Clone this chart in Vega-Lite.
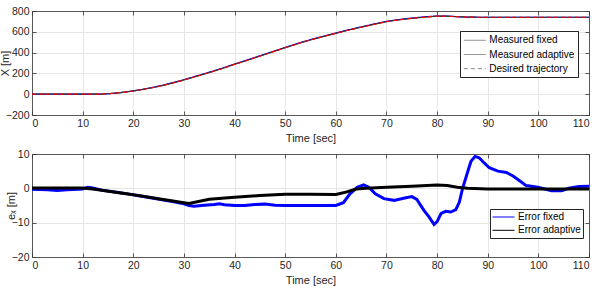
{
  "$schema": "https://vega.github.io/schema/vega-lite/v6.json",
  "padding": {"left": -1, "top": 6, "right": 5, "bottom": 2},
  "spacing": 5,
  "resolve": {"legend": {"color": "independent", "strokeDash": "independent"}},
  "config": {
    "font": "Liberation Sans",
    "view": {"stroke": null},
    "axis": {
      "labelFont": "Liberation Sans", "labelFontSize": 10.5, "labelColor": "#262626",
      "titleFont": "Liberation Sans", "titleFontSize": 11, "titleFontWeight": "normal", "titleColor": "#262626",
      "domainColor": "#333333", "tickColor": "#333333", "gridColor": "#e6e6e6",
      "tickSize": -4, "labelPadding": 7, "domainWidth": 0.8, "tickWidth": 0.8
    },
    "axisX": {"titlePadding": 4},
    "axisY": {"titlePadding": -5},
    "legend": {
      "orient": "none", "title": null, "strokeColor": "#262626", "fillColor": "white",
      "symbolType": "M-1,0H3", "symbolSize": 121, "symbolStrokeWidth": 1,
      "labelFont": "Liberation Sans", "labelFontSize": 10, "labelColor": "#000000",
      "labelOffset": 14, "cornerRadius": 0
    }
  },
  "vconcat": [
    {
      "width": 557, "height": 104,
      "data": {"values": [
        {"t": 0, "Measured fixed": 0, "Measured adaptive": 0, "Desired trajectory": 0},
        {"t": 5, "Measured fixed": 0, "Measured adaptive": 0, "Desired trajectory": 0},
        {"t": 10, "Measured fixed": 0, "Measured adaptive": 0, "Desired trajectory": 0},
        {"t": 12, "Measured fixed": 0, "Measured adaptive": 0, "Desired trajectory": 0},
        {"t": 14, "Measured fixed": 2, "Measured adaptive": 2, "Desired trajectory": 2},
        {"t": 16, "Measured fixed": 8, "Measured adaptive": 8, "Desired trajectory": 8},
        {"t": 18, "Measured fixed": 18, "Measured adaptive": 18, "Desired trajectory": 18},
        {"t": 20, "Measured fixed": 32, "Measured adaptive": 31, "Desired trajectory": 31},
        {"t": 22, "Measured fixed": 48, "Measured adaptive": 47, "Desired trajectory": 47},
        {"t": 24, "Measured fixed": 67, "Measured adaptive": 65, "Desired trajectory": 65},
        {"t": 26, "Measured fixed": 88, "Measured adaptive": 86, "Desired trajectory": 86},
        {"t": 28, "Measured fixed": 113, "Measured adaptive": 110, "Desired trajectory": 110},
        {"t": 30, "Measured fixed": 140, "Measured adaptive": 137, "Desired trajectory": 137},
        {"t": 32, "Measured fixed": 168, "Measured adaptive": 165, "Desired trajectory": 165},
        {"t": 34, "Measured fixed": 197, "Measured adaptive": 194, "Desired trajectory": 194},
        {"t": 36, "Measured fixed": 226, "Measured adaptive": 223, "Desired trajectory": 223},
        {"t": 38, "Measured fixed": 257, "Measured adaptive": 254, "Desired trajectory": 254},
        {"t": 40, "Measured fixed": 290, "Measured adaptive": 287, "Desired trajectory": 287},
        {"t": 42, "Measured fixed": 321, "Measured adaptive": 318, "Desired trajectory": 318},
        {"t": 44, "Measured fixed": 353, "Measured adaptive": 350, "Desired trajectory": 350},
        {"t": 46, "Measured fixed": 385, "Measured adaptive": 382, "Desired trajectory": 382},
        {"t": 48, "Measured fixed": 417, "Measured adaptive": 414, "Desired trajectory": 414},
        {"t": 50, "Measured fixed": 450, "Measured adaptive": 447, "Desired trajectory": 447},
        {"t": 52, "Measured fixed": 481, "Measured adaptive": 478, "Desired trajectory": 478},
        {"t": 54, "Measured fixed": 511, "Measured adaptive": 508, "Desired trajectory": 508},
        {"t": 56, "Measured fixed": 538, "Measured adaptive": 535, "Desired trajectory": 535},
        {"t": 58, "Measured fixed": 564, "Measured adaptive": 561, "Desired trajectory": 561},
        {"t": 60, "Measured fixed": 588, "Measured adaptive": 585, "Desired trajectory": 585},
        {"t": 62, "Measured fixed": 613, "Measured adaptive": 610, "Desired trajectory": 610},
        {"t": 64, "Measured fixed": 636, "Measured adaptive": 633, "Desired trajectory": 633},
        {"t": 66, "Measured fixed": 658, "Measured adaptive": 655, "Desired trajectory": 655},
        {"t": 68, "Measured fixed": 680, "Measured adaptive": 677, "Desired trajectory": 677},
        {"t": 70, "Measured fixed": 700, "Measured adaptive": 697, "Desired trajectory": 697},
        {"t": 72, "Measured fixed": 715, "Measured adaptive": 712, "Desired trajectory": 712},
        {"t": 74, "Measured fixed": 727, "Measured adaptive": 724, "Desired trajectory": 724},
        {"t": 76, "Measured fixed": 737, "Measured adaptive": 734, "Desired trajectory": 734},
        {"t": 78, "Measured fixed": 746, "Measured adaptive": 743, "Desired trajectory": 743},
        {"t": 80, "Measured fixed": 752, "Measured adaptive": 750, "Desired trajectory": 750},
        {"t": 82, "Measured fixed": 751, "Measured adaptive": 750, "Desired trajectory": 750},
        {"t": 84, "Measured fixed": 746, "Measured adaptive": 745, "Desired trajectory": 745},
        {"t": 86, "Measured fixed": 741, "Measured adaptive": 741, "Desired trajectory": 741},
        {"t": 88, "Measured fixed": 740, "Measured adaptive": 740, "Desired trajectory": 740},
        {"t": 90, "Measured fixed": 740, "Measured adaptive": 740, "Desired trajectory": 740},
        {"t": 95, "Measured fixed": 740, "Measured adaptive": 740, "Desired trajectory": 740},
        {"t": 100, "Measured fixed": 740, "Measured adaptive": 740, "Desired trajectory": 740},
        {"t": 105, "Measured fixed": 740, "Measured adaptive": 740, "Desired trajectory": 740},
        {"t": 110, "Measured fixed": 740, "Measured adaptive": 740, "Desired trajectory": 740}
      ]},
      "transform": [{"fold": ["Measured fixed", "Measured adaptive", "Desired trajectory"], "as": ["key", "x"]}],
      "layer": [
        {
          "mark": {"type": "line", "strokeWidth": 1.2, "clip": true},
          "encoding": {
            "x": {"field": "t", "type": "quantitative", "scale": {"domain": [0, 110], "nice": false},
                  "axis": {"orient": "bottom", "values": [0, 10, 20, 30, 40, 50, 60, 70, 80, 90, 100, 110], "title": "Time [sec]"}},
            "y": {"field": "x", "type": "quantitative", "scale": {"domain": [-200, 800], "nice": false},
                  "axis": {"orient": "left", "values": [-200, 0, 200, 400, 600, 800], "title": "X [m]"}},
            "color": {"field": "key", "type": "nominal",
                      "scale": {"domain": ["Measured fixed", "Measured adaptive", "Desired trajectory", "Error fixed", "Error adaptive"], "range": ["#0000ff", "#333333", "#ff0000", "#0000ff", "#000000"]},
                      "legend": {"values": ["Measured fixed", "Measured adaptive", "Desired trajectory"], "legendX": 428, "legendY": 20, "padding": 3.3, "rowPadding": 3.2,
                                 "encode": {"symbols": {"update": {"strokeWidth": {"value": 1}}}}}},
            "strokeDash": {"field": "key", "type": "nominal",
                      "scale": {"domain": ["Measured fixed", "Measured adaptive", "Desired trajectory"], "range": [[1, 0], [1, 0], [4, 3]]},
                      "legend": {"values": ["Measured fixed", "Measured adaptive", "Desired trajectory"], "legendX": 428, "legendY": 20, "padding": 3.3, "rowPadding": 3.2,
                                 "encode": {"symbols": {"update": {"strokeWidth": {"value": 1}}}}}}
          }
        },
        {
          "mark": {"type": "point", "opacity": 0},
          "encoding": {
            "x": {"field": "t", "type": "quantitative", "axis": {"orient": "top", "labels": false, "title": null, "grid": false, "values": [0, 10, 20, 30, 40, 50, 60, 70, 80, 90, 100, 110]}},
            "y": {"field": "x", "type": "quantitative", "axis": {"orient": "right", "labels": false, "title": null, "grid": false, "values": [-200, 0, 200, 400, 600, 800]}}
          }
        }
      ],
      "resolve": {"axis": {"x": "independent", "y": "independent"}}
    },
    {
      "width": 557, "height": 103,
      "data": {"values": [
        {"t": 0, "e": -0.3, "s": "Error fixed"},
        {"t": 3, "e": -0.4, "s": "Error fixed"},
        {"t": 5, "e": -0.6, "s": "Error fixed"},
        {"t": 7, "e": -0.4, "s": "Error fixed"},
        {"t": 10, "e": -0.2, "s": "Error fixed"},
        {"t": 11, "e": 0.3, "s": "Error fixed"},
        {"t": 12, "e": 0.1, "s": "Error fixed"},
        {"t": 14, "e": -0.6, "s": "Error fixed"},
        {"t": 16, "e": -1.0, "s": "Error fixed"},
        {"t": 18, "e": -1.4, "s": "Error fixed"},
        {"t": 20, "e": -1.9, "s": "Error fixed"},
        {"t": 22, "e": -2.4, "s": "Error fixed"},
        {"t": 24, "e": -2.9, "s": "Error fixed"},
        {"t": 26, "e": -3.4, "s": "Error fixed"},
        {"t": 28, "e": -3.9, "s": "Error fixed"},
        {"t": 30, "e": -4.5, "s": "Error fixed"},
        {"t": 31, "e": -5.0, "s": "Error fixed"},
        {"t": 32, "e": -5.2, "s": "Error fixed"},
        {"t": 34, "e": -4.9, "s": "Error fixed"},
        {"t": 36, "e": -4.7, "s": "Error fixed"},
        {"t": 37, "e": -4.5, "s": "Error fixed"},
        {"t": 38, "e": -4.8, "s": "Error fixed"},
        {"t": 40, "e": -5.0, "s": "Error fixed"},
        {"t": 42, "e": -5.0, "s": "Error fixed"},
        {"t": 44, "e": -4.7, "s": "Error fixed"},
        {"t": 46, "e": -4.6, "s": "Error fixed"},
        {"t": 48, "e": -4.9, "s": "Error fixed"},
        {"t": 50, "e": -5.0, "s": "Error fixed"},
        {"t": 55, "e": -5.0, "s": "Error fixed"},
        {"t": 60, "e": -5.0, "s": "Error fixed"},
        {"t": 61.5, "e": -4.2, "s": "Error fixed"},
        {"t": 62.8, "e": -1.6, "s": "Error fixed"},
        {"t": 64.2, "e": 0.3, "s": "Error fixed"},
        {"t": 65.5, "e": 1.0, "s": "Error fixed"},
        {"t": 66.5, "e": 0.3, "s": "Error fixed"},
        {"t": 67.8, "e": -1.6, "s": "Error fixed"},
        {"t": 69.5, "e": -3.0, "s": "Error fixed"},
        {"t": 71.5, "e": -3.5, "s": "Error fixed"},
        {"t": 73.4, "e": -2.9, "s": "Error fixed"},
        {"t": 75, "e": -2.4, "s": "Error fixed"},
        {"t": 76, "e": -3.2, "s": "Error fixed"},
        {"t": 77.4, "e": -6.4, "s": "Error fixed"},
        {"t": 78.4, "e": -8.3, "s": "Error fixed"},
        {"t": 79.4, "e": -10.5, "s": "Error fixed"},
        {"t": 80, "e": -9.7, "s": "Error fixed"},
        {"t": 80.8, "e": -7.3, "s": "Error fixed"},
        {"t": 81.7, "e": -6.7, "s": "Error fixed"},
        {"t": 82.7, "e": -6.9, "s": "Error fixed"},
        {"t": 83.7, "e": -6.2, "s": "Error fixed"},
        {"t": 84.4, "e": -4.0, "s": "Error fixed"},
        {"t": 85, "e": -0.2, "s": "Error fixed"},
        {"t": 86, "e": 4.6, "s": "Error fixed"},
        {"t": 86.7, "e": 7.9, "s": "Error fixed"},
        {"t": 87.5, "e": 9.3, "s": "Error fixed"},
        {"t": 88.3, "e": 8.9, "s": "Error fixed"},
        {"t": 89.3, "e": 7.4, "s": "Error fixed"},
        {"t": 90.3, "e": 6.0, "s": "Error fixed"},
        {"t": 92, "e": 5.0, "s": "Error fixed"},
        {"t": 93.7, "e": 4.6, "s": "Error fixed"},
        {"t": 95, "e": 3.6, "s": "Error fixed"},
        {"t": 96.3, "e": 2.2, "s": "Error fixed"},
        {"t": 97.6, "e": 0.8, "s": "Error fixed"},
        {"t": 99.9, "e": 0.3, "s": "Error fixed"},
        {"t": 102.6, "e": -0.7, "s": "Error fixed"},
        {"t": 104.6, "e": -0.7, "s": "Error fixed"},
        {"t": 106, "e": 0.0, "s": "Error fixed"},
        {"t": 108, "e": 0.5, "s": "Error fixed"},
        {"t": 110, "e": 0.6, "s": "Error fixed"},
        {"t": 0, "e": 0.1, "s": "Error adaptive"},
        {"t": 10, "e": 0.1, "s": "Error adaptive"},
        {"t": 12, "e": -0.2, "s": "Error adaptive"},
        {"t": 20, "e": -1.9, "s": "Error adaptive"},
        {"t": 30, "e": -4.2, "s": "Error adaptive"},
        {"t": 31, "e": -4.4, "s": "Error adaptive"},
        {"t": 35, "e": -3.2, "s": "Error adaptive"},
        {"t": 40, "e": -2.6, "s": "Error adaptive"},
        {"t": 45, "e": -2.1, "s": "Error adaptive"},
        {"t": 50, "e": -1.7, "s": "Error adaptive"},
        {"t": 55, "e": -1.7, "s": "Error adaptive"},
        {"t": 60, "e": -1.8, "s": "Error adaptive"},
        {"t": 62, "e": -1.1, "s": "Error adaptive"},
        {"t": 64, "e": -0.2, "s": "Error adaptive"},
        {"t": 66, "e": 0.0, "s": "Error adaptive"},
        {"t": 70, "e": 0.3, "s": "Error adaptive"},
        {"t": 75, "e": 0.6, "s": "Error adaptive"},
        {"t": 80, "e": 1.0, "s": "Error adaptive"},
        {"t": 82, "e": 0.8, "s": "Error adaptive"},
        {"t": 84, "e": 0.3, "s": "Error adaptive"},
        {"t": 86, "e": 0.0, "s": "Error adaptive"},
        {"t": 90, "e": -0.2, "s": "Error adaptive"},
        {"t": 100, "e": -0.2, "s": "Error adaptive"},
        {"t": 110, "e": -0.2, "s": "Error adaptive"}
      ]},
      "layer": [
        {
          "mark": {"type": "line", "strokeWidth": 3, "clip": true},
          "encoding": {
            "x": {"field": "t", "type": "quantitative", "scale": {"domain": [0, 110], "nice": false},
                  "axis": {"orient": "bottom", "values": [0, 10, 20, 30, 40, 50, 60, 70, 80, 90, 100, 110], "title": "Time [sec]"}},
            "y": {"field": "e", "type": "quantitative", "scale": {"domain": [-20, 10], "nice": false},
                  "axis": {"orient": "left", "values": [-20, -10, 0, 10], "title": "eₓ [m]"}},
            "color": {"field": "s", "type": "nominal",
                      "scale": {"domain": ["Measured fixed", "Measured adaptive", "Desired trajectory", "Error fixed", "Error adaptive"], "range": ["#0000ff", "#333333", "#ff0000", "#0000ff", "#000000"]},
                      "legend": {"values": ["Error fixed", "Error adaptive"], "legendX": 458, "legendY": 55, "padding": 2, "rowPadding": 2.3,
                                 "encode": {"symbols": {"update": {"strokeWidth": {"value": 1}}}}}}
          }
        },
        {
          "mark": {"type": "point", "opacity": 0},
          "encoding": {
            "x": {"field": "t", "type": "quantitative", "axis": {"orient": "top", "labels": false, "title": null, "grid": false, "values": [0, 10, 20, 30, 40, 50, 60, 70, 80, 90, 100, 110]}},
            "y": {"field": "e", "type": "quantitative", "axis": {"orient": "right", "labels": false, "title": null, "grid": false, "values": [-20, -10, 0, 10]}}
          }
        }
      ],
      "resolve": {"axis": {"x": "independent", "y": "independent"}}
    }
  ]
}
